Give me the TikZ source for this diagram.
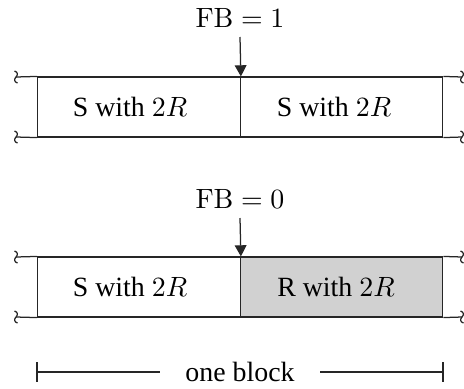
\documentclass[tikz,border=0pt]{standalone}
\usepackage[no-math]{fontspec}
\setmainfont{LiberationSerif}[Extension=.ttf,UprightFont=*-Regular,ItalicFont=*-Italic,BoldFont=*-Bold]
\usetikzlibrary{arrows.meta}
\begin{document}
\begin{tikzpicture}[x=0.359pt,y=-0.359pt,
  ln/.style={line width=0.45pt,draw=black!85},
  cell/.style={ln,minimum width=72.7pt,minimum height=21.5pt,inner sep=0pt,anchor=center},
  shaded/.style={cell,fill=black!18},
  lbl/.style={inner sep=1pt},
  arr/.style={ln,-{Triangle[length=4pt,width=4.2pt]}},
  squig/.style={ln}]
\useasboundingbox (0,0) rectangle (464,388);
% ---- top row ----
\node[cell] (a1) at (139,107) {};
\node[cell] (a2) at (341.5,107) {};
\node[lbl] (ta1) at (130,107) {S with $2R$};
\node[lbl] (ta2) at (334,107) {S with $2R$};
\coordinate (aLt) at (16,77); \coordinate (aLb) at (16,137);
\coordinate (aRt) at (462,77); \coordinate (aRb) at (462,137);
\draw[ln] (aLt) -- (a1.north west); \draw[ln] (aLb) -- (a1.south west);
\draw[ln] (a2.north east) -- (aRt); \draw[ln] (a2.south east) -- (aRb);
\foreach \p in {aLt,aLb,aRt,aRb}
  \draw[squig] ([shift={(-1.5,-6)}]\p) .. controls ([shift={(2,-5)}]\p) and ([shift={(2,-2)}]\p) .. (\p)
     .. controls ([shift={(-2,2)}]\p) and ([shift={(-2,5)}]\p) .. ([shift={(1.5,6)}]\p);
\node[lbl] (fb1) at (240,18) {$\mathrm{FB}=1$};
\coordinate (s1) at (240,37);
\draw[arr] (s1) -- (a1.north east);
% ---- bottom row ----
\node[cell] (b1) at (139,287) {};
\node[shaded] (b2) at (341.5,287) {};
\node[lbl] (tb1) at (130,287) {S with $2R$};
\node[lbl] (tb2) at (336,287) {R with $2R$};
\coordinate (bLt) at (16,257); \coordinate (bLb) at (16,317);
\coordinate (bRt) at (462,257); \coordinate (bRb) at (462,317);
\draw[ln] (bLt) -- (b1.north west); \draw[ln] (bLb) -- (b1.south west);
\draw[ln] (b2.north east) -- (bRt); \draw[ln] (b2.south east) -- (bRb);
\foreach \p in {bLt,bLb,bRt,bRb}
  \draw[squig] ([shift={(-1.5,-6)}]\p) .. controls ([shift={(2,-5)}]\p) and ([shift={(2,-2)}]\p) .. (\p)
     .. controls ([shift={(-2,2)}]\p) and ([shift={(-2,5)}]\p) .. ([shift={(1.5,6)}]\p);
\node[lbl] (fb0) at (240,199) {$\mathrm{FB}=0$};
\coordinate (s0) at (240,218);
\draw[arr] (s0) -- (b1.north east);
% ---- one block ----
\node[lbl] (ob) at (240,372) {one block};
\coordinate (oL) at (37,372); \coordinate (oR) at (443,372);
\draw[ln] (oL) -- (160,372); \draw[ln] (320,372) -- (oR);
\draw[ln] ([shift={(0,-10)}]oL) -- ([shift={(0,10)}]oL);
\draw[ln] ([shift={(0,-10)}]oR) -- ([shift={(0,10)}]oR);
\end{tikzpicture}
\end{document}
